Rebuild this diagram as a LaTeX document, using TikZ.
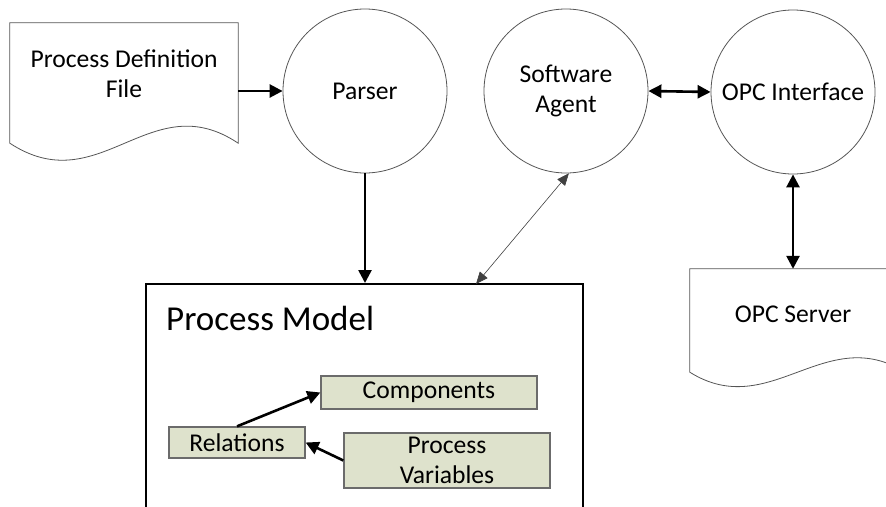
\documentclass[tikz,border=0pt]{standalone}
\usepackage{fontspec}
\setmainfont{Carlito}
\usetikzlibrary{arrows.meta,calc}
\definecolor{boxfill}{HTML}{DEE2CC}
\definecolor{boxline}{HTML}{6B6B6B}
\definecolor{shapeline}{HTML}{555555}
\tikzset{
  lbl/.style={font=\fontsize{25.6}{30}\selectfont, align=center, inner sep=0pt},
  circ/.style={circle, draw=shapeline, line width=0.8pt, minimum size=164pt, inner sep=0pt, lbl},
  docarea/.style={inner sep=0pt, minimum width=#1},
  docline/.style={draw=shapeline, line width=0.8pt},
  item/.style={draw=boxline, fill=boxfill, line width=1.3pt, inner sep=0pt, lbl},
  bigarrow/.style={line width=2.6pt, -{Triangle[length=13pt,width=13pt]}},
  bigboth/.style={line width=2.6pt, {Triangle[length=13pt,width=13pt]}-{Triangle[length=13pt,width=13pt]}},
  thinboth/.style={line width=0.6pt, draw=black!75, {Triangle[length=12pt,width=10pt]}-{Triangle[length=12pt,width=10pt]}},
}
\begin{document}
\begin{tikzpicture}[x=1pt,y=-1pt]
\useasboundingbox (0,0) rectangle (886,506);

% document shapes: straight top and sides, wavy bottom
\node[docarea=228pt, minimum height=120pt] (pdf) at (124,83) {};
\draw[docline] (pdf.north west) -- (pdf.north east) -- (pdf.south east)
  .. controls ($(pdf.south east)+(-88,-59)$) and ($(pdf.south west)+(90,59)$) .. (pdf.south west) -- cycle;
\node[lbl] at (124,74) {Process Definition\\File};

\node[docarea=215pt, minimum height=103pt] (opcs) at (797.5,320.5) {};
\draw[docline] (opcs.north west) -- (opcs.north east) -- (opcs.south east)
  .. controls ($(opcs.south east)+(-80,-50)$) and ($(opcs.south west)+(80,50)$) .. (opcs.south west) -- cycle;
\node[lbl] at (793,314) {OPC Server};

% processes
\node[circ] (parser) at (365,91) {Parser};
\node[circ] (agent) at (566,91) {Software\\Agent};
\node[circ] (opc) at (793,92) {OPC Interface};

% model container and its parts
\node[draw=black, line width=2pt, minimum width=437pt, minimum height=260pt, inner sep=0pt] (pm) at (364.5,414) {};
\node[anchor=west, inner sep=0pt, font=\fontsize{35}{40}\selectfont] (pmtitle) at (166,318) {Process Model};
\node[item, minimum width=216pt, minimum height=33pt] (comp) at (429,392.5) {Components};
\node[item, minimum width=136pt, minimum height=31pt] (rel) at (237,442.5) {Relations};
\node[item, minimum width=206pt, minimum height=55pt] (pv) at (447,460.5) {Process\\Variables};
\coordinate (pmlink) at (476,284);

% connectors
\draw[bigarrow] (pdf.east |- parser.west) -- (parser.west);
\draw[bigarrow] (parser.south) -- (pm.north -| parser.south);
\draw[thinboth] (agent.-88) -- (pmlink);
\draw[bigboth] (agent.east) -- (opc.west);
\draw[bigboth] (opc.south) -- (opc.south |- opcs.north);
\draw[bigarrow] (rel.north) -- (comp.west);
\draw[bigarrow] (pv.west) -- (rel.east);
\end{tikzpicture}
\end{document}
